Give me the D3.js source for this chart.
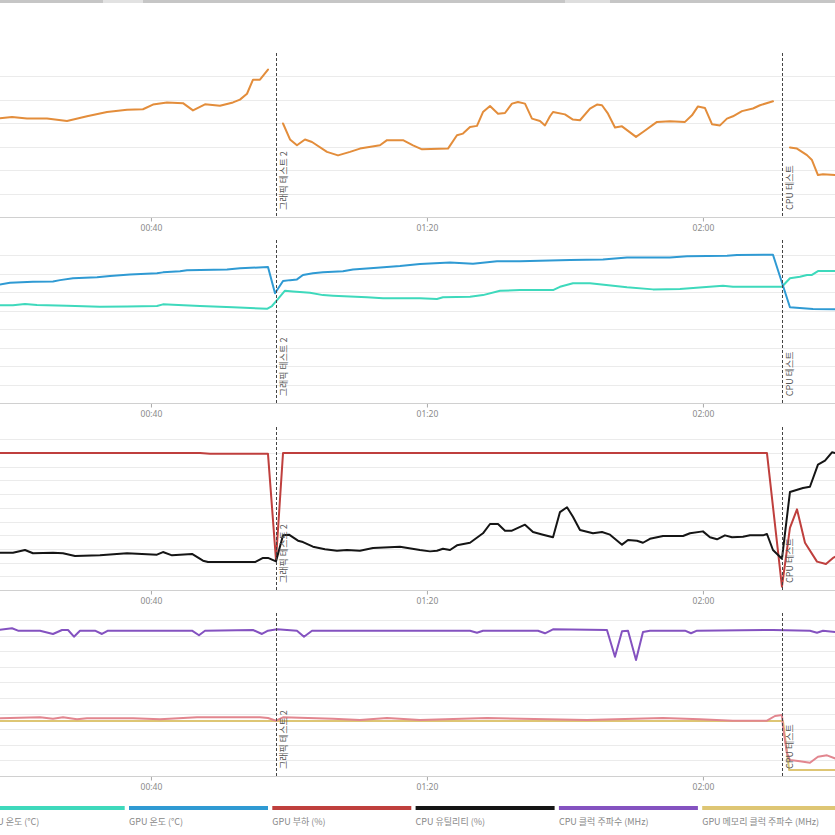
<!DOCTYPE html>
<html><head><meta charset="utf-8">
<script src="https://cdn.jsdelivr.net/npm/d3@7"></script>
<style>
html,body{margin:0;padding:0;background:#fff;overflow:hidden;}
svg{display:block;font-family:"Noto Sans CJK KR","Noto Sans",sans-serif;}
</style></head>
<body><svg id="c" width="835" height="835"></svg>
<script>
// ---- data (time in minutes, value) ----
const tickMinutes = [40, 80, 120];
const tickLabels = ["00:40", "01:20", "02:00"];

const markerTimes = [58.12, 131.5];
const markerLabels = ["그래픽 테스트 2", "CPU 테스트"];

const legendNames = ["CPU 온도 (°C)", "GPU 온도 (°C)", "GPU 부하 (%)", "CPU 유틸리티 (%)", "CPU 클럭 주파수 (MHz)", "GPU 메모리 클럭 주파수 (MHz)"];

// panel 1 series (orange), null = gap
const panel1Series = [
[17.8,42.0],[19.86,42.7],[22.03,42.0],[24.93,42.0],[27.83,41.0],[30.73,43.0],[33.63,44.8],[36.53,45.8],[38.84,46.0],[40.29,48.0],[42.32,48.9],[44.64,48.6],[46.09,45.5],[47.83,48.1],[50.0,47.5],[51.89,48.9],[52.9,50.1],[53.92,52.6],[54.79,58.6],[55.8,58.6],[56.96,62.9],
[58.1,null],
[59.14,39.9],[60.15,33.1],[61.16,30.6],[62.32,33.1],[63.34,32.0],[65.51,27.8],[67.11,26.3],[68.85,27.8],[70.29,29.2],[73.19,30.6],[74.21,32.8],[76.53,32.8],[77.98,30.6],[79.28,28.9],[83.05,29.2],[84.35,34.9],[85.22,35.6],[86.24,38.4],[87.25,38.9],[88.12,44.8],[89.14,47.4],[90.3,44.1],[91.31,44.4],[92.32,48.4],[93.19,49.1],[94.21,48.4],[95.22,42.0],[96.38,41.0],[97.11,39.1],[97.83,43.0],[98.27,44.8],[100.0,43.8],[101.16,41.6],[102.18,41.3],[103.63,46.3],[104.64,48.0],[105.37,47.7],[106.24,44.1],[107.25,38.2],[108.27,38.7],[110.3,34.2],[111.31,36.3],[113.34,40.6],[115.22,40.9],[117.4,40.6],[118.41,43.4],[119.28,47.2],[120.3,46.5],[121.31,39.6],[122.47,39.1],[123.48,42.0],[124.35,43.0],[125.66,45.2],[127.25,46.3],[128.27,47.7],[130.15,49.4],
[131.5,null],
[132.61,29.7],[133.63,29.2],[135.08,26.4],[135.8,24.3],[136.67,17.9],[137.4,18.2],[139.28,17.9]
];

const gpuTemp = [
[17.8,64.0],[19.57,65.2],[22.9,65.7],[25.8,65.9],[26.82,66.6],[28.7,67.6],[32.18,68.1],[34.06,68.8],[36.96,69.7],[40.87,70.3],[41.74,70.8],[44.21,71.4],[45.22,71.9],[51.02,72.4],[52.9,73.0],[56.96,73.7],[57.98,59.5],[59.14,66.1],[60.15,66.6],[61.16,67.0],[62.03,69.4],[63.48,70.3],[64.93,70.8],[67.83,71.4],[69.28,72.4],[72.76,73.3],[76.09,74.2],[78.99,75.3],[83.34,76.2],[86.67,75.5],[90.15,76.8],[93.48,76.8],[100.73,77.5],[105.51,77.8],[108.99,78.9],[115.22,78.9],[117.69,79.5],[123.48,79.8],[124.93,80.2],[130.15,80.3],[132.61,51.9],[135.95,51.0],[139.28,50.8]
];

const cpuTemp = [
[17.8,53.0],[20.0,53.0],[21.74,53.7],[23.48,53.1],[27.83,52.8],[32.61,52.2],[36.53,52.4],[40.87,52.6],[41.74,53.5],[43.19,53.3],[47.11,52.6],[51.89,51.9],[56.82,51.1],[57.54,52.6],[58.27,55.8],[59.42,60.9],[60.58,60.5],[63.05,59.8],[64.93,58.5],[66.38,58.2],[71.31,57.3],[73.63,56.8],[78.99,56.8],[81.45,56.4],[82.32,57.3],[86.24,57.6],[88.12,58.5],[90.59,60.9],[93.48,61.2],[98.27,61.2],[99.28,63.0],[101.16,64.9],[103.63,64.9],[108.99,62.7],[112.76,61.6],[116.67,61.8],[120.0,62.7],[122.9,63.6],[124.35,63.0],[130.15,63.0],[131.45,63.0],[132.61,67.6],[134.06,68.4],[135.08,69.4],[135.8,69.4],[136.67,71.5],[139.28,71.5]
];

const gpuLoad = [
[17.8,100],[47.11,100],[48.56,99.4],[56.96,99.4],[58.12,21.9],[59.14,100],[129.28,100],[131.45,2.4],[132.61,45.3],[133.63,58.9],[134.79,34.5],[136.53,20.7],[137.83,19.0],[138.85,23.4],[139.28,24.5]
];

const cpuUtil = [
[17.8,27.2],[20.0,27.2],[21.74,29.2],[22.9,26.8],[25.8,27.2],[27.25,26.8],[28.99,24.8],[32.61,25.3],[36.53,26.8],[40.87,25.8],[41.74,27.7],[43.05,25.3],[45.95,26.3],[47.54,21.4],[48.27,20.4],[51.89,20.4],[55.08,20.4],[56.24,23.4],[56.96,23.4],[58.12,20.9],[59.14,39.9],[60.0,40.4],[61.31,36.0],[62.03,35.0],[63.48,31.6],[65.22,29.7],[66.96,28.7],[68.41,29.2],[70.29,28.7],[72.18,30.7],[76.09,31.6],[78.99,29.2],[80.44,28.2],[81.45,28.7],[82.32,30.1],[83.34,29.2],[84.35,32.6],[86.24,34.5],[88.12,41.4],[89.14,48.2],[90.3,48.2],[91.31,43.3],[92.32,43.3],[94.21,47.7],[95.37,42.3],[96.82,40.4],[98.27,38.5],[99.28,56.9],[100.3,60.4],[101.16,53.5],[102.18,43.8],[104.06,41.4],[105.37,42.3],[106.53,40.4],[108.27,33.1],[109.14,36.5],[110.44,36.0],[111.31,34.5],[112.32,37.4],[114.21,39.4],[117.11,39.4],[118.12,41.4],[120.0,42.8],[121.02,38.5],[122.04,37.0],[123.19,39.9],[124.21,38.5],[125.8,38.9],[126.82,39.9],[128.7,39.9],[129.28,40.9],[130.15,29.2],[131.45,22.8],[132.61,71.5],[134.5,74.5],[135.51,75.4],[136.67,91.5],[137.69,94.4],[138.7,100.5],[139.28,99.8]
];

const cpuClock = [
[17.8,4679],[19.86,4734],[20.73,4657],[23.92,4657],[25.8,4551],[27.11,4679],[27.98,4679],[28.84,4465],[29.71,4657],[31.89,4657],[32.9,4551],[33.77,4657],[45.95,4657],[46.96,4510],[47.83,4657],[54.79,4679],[56.09,4551],[56.96,4657],[58.27,4702],[61.16,4657],[62.18,4465],[63.34,4657],[78.99,4657],[86.24,4657],[87.25,4593],[88.12,4657],[96.09,4657],[97.11,4574],[98.27,4702],[106.09,4679],[107.25,3824],[108.27,4638],[109.14,4657],[110.3,3718],[111.31,4615],[112.32,4657],[117.4,4657],[118.27,4574],[119.14,4657],[130.15,4679],[135.51,4657],[136.53,4593],[137.4,4657],[139.28,4615]
];

const gpuClock = [
[17.8,1849],[23.92,1881],[25.8,1836],[27.25,1881],[29.28,1817],[30.73,1849],[37.4,1849],[41.31,1817],[46.67,1881],[55.8,1881],[56.96,1859],[58.12,1772],[59.14,1881],[66.38,1836],[70.29,1795],[74.21,1859],[78.99,1795],[88.7,1859],[103.19,1795],[114.21,1859],[119.57,1817],[124.35,1772],[129.28,1772],[130.44,1923],[131.45,1955],[131.6,1580],[132.18,728],[132.61,513],[134.06,471],[135.51,426],[136.67,619],[137.98,663],[139.28,554]
];

const gpuMemClock = [
[17.8,1765],[131.6,1765],[132.5,192],[139.28,192]
];

// ---- layout / style ----
const colors = {
  orange:"#E38D3B", cpuTemp:"#3ED9BC", gpuTemp:"#2F9AD3", gpuLoad:"#BF3F3D",
  cpuUtil:"#151515", cpuClock:"#8452C0", gpuMem:"#DEC674", gpuClock:"#E2868F"
};
const legendColors = [colors.cpuTemp, colors.gpuTemp, colors.gpuLoad, colors.cpuUtil, colors.cpuClock, colors.gpuMem];

const panels = [
  {top:53, bottom:217, max:70, gridStep:10, gridMax:60, series:[{d:panel1Series,c:colors.orange}]},
  {top:240, bottom:403.3, max:88.3, gridStep:10, gridMax:80, series:[{d:cpuTemp,c:colors.cpuTemp},{d:gpuTemp,c:colors.gpuTemp}]},
  {top:427, bottom:590, max:119, gridStep:10, gridMax:110, series:[{d:gpuLoad,c:colors.gpuLoad},{d:cpuUtil,c:colors.cpuUtil}]},
  {top:613, bottom:776, max:5224, gridStep:500, gridMax:5000, series:[{d:gpuMemClock,c:colors.gpuMem},{d:gpuClock,c:colors.gpuClock},{d:cpuClock,c:colors.cpuClock}]}
];

const W = 835;
const svg = d3.select("#c");
const x = d3.scaleLinear().domain([18.12, 139.14]).range([0, W]);

// top strip
svg.append("rect").attr("x",0).attr("y",0).attr("width",W).attr("height",3).attr("fill","#c6c6c6");
svg.append("rect").attr("x",103).attr("y",0).attr("width",40).attr("height",3).attr("fill","#e2e2e2");
svg.append("rect").attr("x",565).attr("y",0).attr("width",45).attr("height",3).attr("fill","#dedede");

panels.forEach(p => {
  const y = d3.scaleLinear().domain([0, p.max]).range([p.bottom, p.top]);
  const g = svg.append("g");
  const grid = d3.range(p.gridStep, p.gridMax + p.gridStep/2, p.gridStep);
  g.selectAll("line.grid").data(grid).join("line")
    .attr("x1",0).attr("x2",W).attr("y1",d=>Math.round(y(d))+0.5).attr("y2",d=>Math.round(y(d))+0.5)
    .attr("stroke","#ebebeb").attr("stroke-width",1);

  // x axis
  const ax = d3.axisBottom(x).tickValues(tickMinutes).tickFormat((d,i)=>tickLabels[i]).tickSize(4).tickPadding(3);
  const axg = g.append("g").attr("transform",`translate(0,${Math.round(p.bottom)+0.5})`).call(ax);
  axg.select(".domain").remove();
  axg.selectAll(".tick line").attr("stroke","#aaa");
  axg.selectAll(".tick text").attr("fill","#8a8a8a").attr("font-size",8.5).attr("font-family","'Noto Sans','Noto Sans CJK KR',sans-serif");
  g.append("line").attr("x1",0).attr("x2",W).attr("y1",Math.round(p.bottom)+0.5).attr("y2",Math.round(p.bottom)+0.5)
    .attr("stroke","#d0d0d0").attr("stroke-width",1);

  // series
  const line = d3.line().defined(d=>d[1]!==null).x(d=>x(d[0])).y(d=>y(d[1]));
  p.series.forEach(s=>{
    g.append("path").attr("d",line(s.d)).attr("fill","none").attr("stroke",s.c)
      .attr("stroke-width",2).attr("stroke-linejoin","round").attr("stroke-linecap","round");
  });

  // markers
  markerTimes.forEach((t,i)=>{
    const mx = Math.round(x(t))+0.5;
    g.append("line").attr("x1",mx).attr("x2",mx).attr("y1",p.top).attr("y2",p.bottom)
      .attr("stroke","#444").attr("stroke-width",1).attr("stroke-dasharray","3,2");
    g.append("text").attr("transform",`translate(${mx+10.5},${p.bottom-7}) rotate(-90)`)
      .attr("font-size",9).attr("fill","#555").text(markerLabels[i]);
  });
});

// legend
const lg = svg.append("g");
legendNames.forEach((n,i)=>{
  const lx = -14.3 + i*143.3;
  lg.append("rect").attr("x",lx).attr("y",806).attr("width",139).attr("height",4).attr("fill",legendColors[i]);
  lg.append("text").attr("x",lx).attr("y",825).attr("font-size",9).attr("fill","#888").text(n);
});
</script>
</body></html>
